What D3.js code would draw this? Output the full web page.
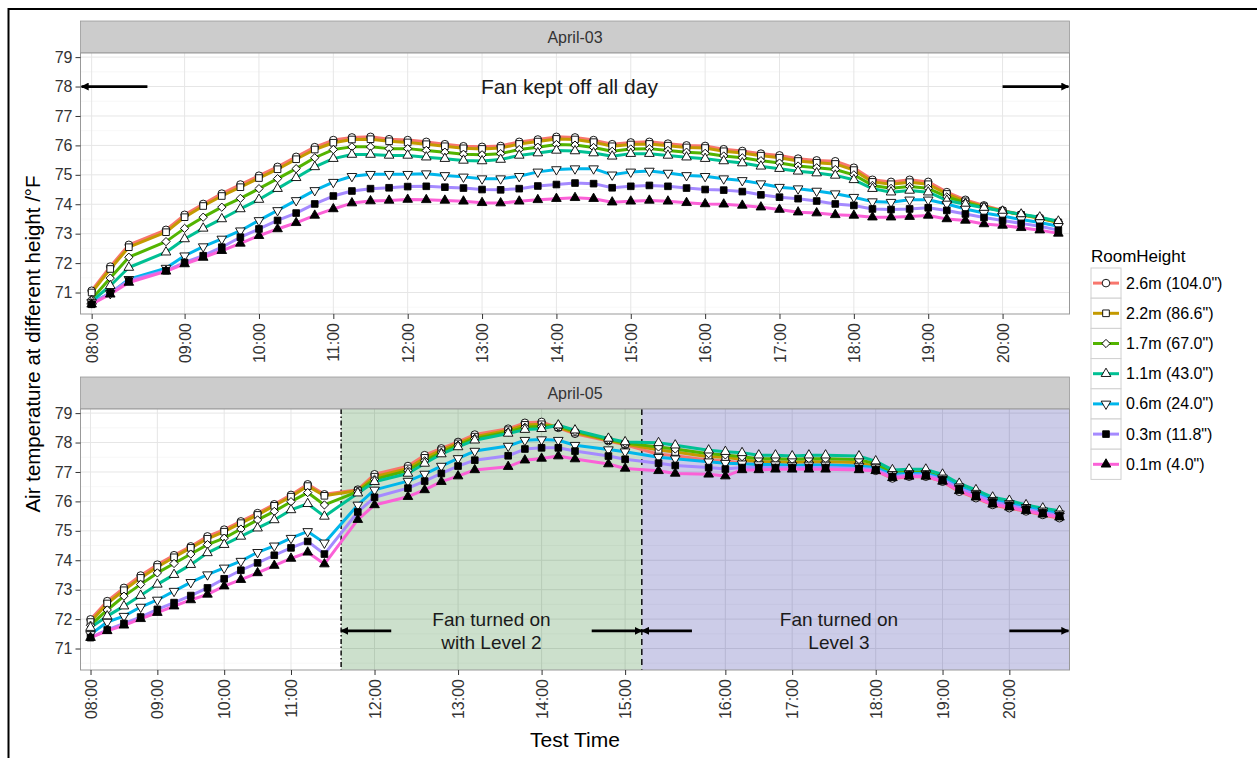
<!DOCTYPE html>
<html>
<head>
<meta charset="utf-8">
<script src="https://cdn.jsdelivr.net/npm/d3@7"></script>
<style>
body{margin:0;background:#fff;}
text{font-family:"Liberation Sans",Arial,sans-serif;}
</style>
</head>
<body>
<svg id="chart" width="1257" height="758"></svg>
<script>

// series (legend order)
var seriesNames=['2.6m (104.0")','2.2m (86.6")','1.7m (67.0")','1.1m (43.0")','0.6m (24.0")','0.3m (11.8")','0.1m (4.0")'];
var seriesColors=["#F8766D","#C49A00","#53B400","#00C094","#00B6EB","#A58AFF","#FB61D7"];
var seriesShapes=["circle","square","diamond","triangle","triangleDown","squareFilled","triangleFilled"];

// April-03 : discrete time slots (53 levels) and the readings
var topLevels=53;
var topSlots=[0,1,2,4,5,6,7,8,9,10,11,12,13,14,15,16,17,18,19,20,21,22,23,24,25,26,27,28,29,30,31,32,33,34,35,36,37,38,39,40,41,42,43,44,45,46,47,48,49,50,51,52];
var top26=[71.06,71.88,72.62,73.13,73.64,74.01,74.36,74.67,74.97,75.27,75.61,75.94,76.18,76.27,76.29,76.21,76.18,76.12,76.04,75.97,75.95,75.98,76.12,76.2,76.29,76.27,76.18,76.04,76.1,76.12,76.06,76.0,75.98,75.87,75.81,75.72,75.66,75.55,75.49,75.46,75.24,74.83,74.76,74.83,74.76,74.41,74.15,73.96,73.79,73.65,73.53,73.39];
var top22=[71.0,71.8,72.54,73.05,73.56,73.94,74.28,74.58,74.89,75.19,75.53,75.86,76.09,76.2,76.21,76.14,76.1,76.04,75.97,75.9,75.88,75.91,76.05,76.13,76.22,76.2,76.11,75.97,76.03,76.05,75.99,75.93,75.91,75.8,75.74,75.65,75.58,75.47,75.41,75.37,75.16,74.76,74.68,74.75,74.68,74.35,74.1,73.92,73.77,73.64,73.52,73.38];
var top17=[70.77,71.49,72.2,72.73,73.18,73.56,73.9,74.2,74.53,74.87,75.21,75.58,75.86,75.95,75.95,75.89,75.89,75.83,75.77,75.7,75.68,75.72,75.86,75.94,76.03,76.01,75.93,75.8,75.88,75.89,75.83,75.77,75.73,75.64,75.58,75.48,75.4,75.3,75.24,75.18,75.0,74.64,74.54,74.6,74.54,74.25,74.05,73.9,73.77,73.65,73.54,73.4];
var top11=[70.7,71.23,71.85,72.37,72.82,73.18,73.5,73.84,74.16,74.53,74.9,75.27,75.55,75.69,75.69,75.66,75.66,75.6,75.55,75.49,75.47,75.52,75.66,75.74,75.83,75.81,75.74,75.63,75.72,75.72,75.66,75.6,75.55,75.47,75.4,75.29,75.21,75.12,75.06,74.98,74.83,74.53,74.41,74.47,74.41,74.13,74.0,73.88,73.76,73.66,73.56,73.42];
var top06=[70.66,70.97,71.45,71.83,72.25,72.56,72.82,73.1,73.45,73.79,74.13,74.47,74.75,74.95,75.02,75.02,75.02,75.04,74.98,74.93,74.87,74.87,74.95,75.1,75.18,75.21,75.21,75.0,75.1,75.13,75.06,74.98,74.95,74.87,74.81,74.7,74.58,74.53,74.45,74.36,74.24,74.09,74.07,74.15,74.15,74.01,73.84,73.7,73.6,73.48,73.38,73.25];
var top03=[70.6,71.0,71.4,71.74,72.02,72.25,72.54,72.88,73.16,73.45,73.7,74.01,74.28,74.45,74.53,74.56,74.6,74.61,74.58,74.55,74.5,74.49,74.53,74.62,74.67,74.72,74.7,74.56,74.61,74.64,74.61,74.55,74.5,74.48,74.43,74.32,74.24,74.19,74.11,74.01,73.96,73.84,73.82,73.84,73.88,73.79,73.67,73.55,73.45,73.35,73.25,73.12];
var top01=[70.6,70.94,71.34,71.72,71.97,72.19,72.42,72.67,72.93,73.16,73.37,73.62,73.84,74.04,74.11,74.13,74.16,74.15,74.13,74.1,74.05,74.04,74.1,74.15,74.19,74.22,74.19,74.07,74.1,74.13,74.1,74.05,74.01,74.0,73.96,73.9,73.82,73.73,73.7,73.64,73.62,73.56,73.56,73.58,73.62,73.5,73.45,73.33,73.28,73.2,73.12,73.01];
var topTickSlots=[0,5,9,13,17,21,25,29,33,37,41,45,49];
var topTickLabels=["08:00","09:00","10:00","11:00","12:00","13:00","14:00","15:00","16:00","17:00","18:00","19:00","20:00"];

// April-05 : discrete time slots (59 levels) and the readings
var botLevels=59;
var botSlots=[0,1,2,3,4,5,6,7,8,9,10,11,12,13,14,16,17,19,20,21,22,23,25,26,27,28,29,31,32,34,35,37,38,39,40,41,42,43,44,46,47,48,49,50,51,52,53,54,55,56,57,58];
var bot26=[71.99,72.61,73.06,73.48,73.85,74.17,74.47,74.81,75.04,75.32,75.6,75.9,76.22,76.58,76.24,76.4,76.92,77.2,77.57,77.8,78.02,78.27,78.47,78.67,78.7,78.5,78.3,78.05,77.92,77.6,77.55,77.4,77.38,77.3,77.25,77.25,77.22,77.24,77.24,77.2,77.04,76.78,76.84,76.84,76.67,76.33,76.11,75.88,75.77,75.66,75.54,75.43];
var bot22=[71.9,72.53,72.98,73.4,73.77,74.1,74.42,74.73,74.97,75.26,75.54,75.85,76.16,76.52,76.19,76.37,76.84,77.12,77.48,77.74,77.97,78.2,78.42,78.6,78.62,78.52,78.34,78.08,77.95,77.75,77.68,77.52,77.5,77.42,77.35,77.35,77.33,77.35,77.35,77.32,77.18,76.88,76.92,76.92,76.74,76.42,76.2,75.96,75.85,75.72,75.6,75.5];
var bot17=[71.79,72.31,72.78,73.18,73.57,73.89,74.21,74.53,74.75,75.06,75.37,75.66,75.99,76.3,75.88,76.33,76.75,77.05,77.38,77.67,77.91,78.14,78.36,78.52,78.55,78.56,78.38,78.1,77.98,77.85,77.78,77.62,77.58,77.52,77.45,77.45,77.43,77.45,77.45,77.42,77.28,76.98,77.0,77.0,76.82,76.52,76.3,76.05,75.94,75.8,75.68,75.58];
var bot11=[71.71,72.1,72.44,72.8,73.18,73.51,73.85,74.25,74.53,74.81,75.09,75.37,75.71,75.92,75.49,76.28,76.67,76.95,77.29,77.61,77.85,78.08,78.31,78.44,78.47,78.59,78.42,78.14,78.02,77.99,77.91,77.74,77.69,77.65,77.57,77.57,77.54,77.57,77.57,77.54,77.37,77.07,77.09,77.09,76.92,76.61,76.39,76.14,76.03,75.88,75.77,75.68];
var bot06=[71.48,71.9,72.1,72.41,72.65,72.95,73.25,73.51,73.74,73.97,74.27,74.49,74.75,74.98,74.59,75.88,76.39,76.69,76.93,77.2,77.46,77.71,77.88,78.08,78.1,78.08,77.91,77.76,77.69,77.5,77.45,77.35,77.3,77.28,77.25,77.25,77.22,77.24,77.24,77.2,77.15,76.92,76.95,76.95,76.8,76.5,76.28,76.04,75.93,75.8,75.68,75.58];
var bot03=[71.37,71.63,71.85,72.07,72.33,72.56,72.8,73.06,73.37,73.66,73.91,74.17,74.42,74.64,74.21,75.64,76.14,76.45,76.69,76.95,77.2,77.4,77.55,77.78,77.82,77.82,77.71,77.54,77.43,77.3,77.22,77.15,77.1,77.15,77.15,77.15,77.15,77.15,77.15,77.12,77.08,76.85,76.9,76.9,76.74,76.44,76.22,75.98,75.87,75.74,75.62,75.52];
var bot01=[71.37,71.6,71.79,72.01,72.22,72.44,72.65,72.84,73.12,73.34,73.57,73.82,74.06,74.27,73.87,75.38,75.88,76.16,76.39,76.67,76.86,77.07,77.18,77.4,77.46,77.54,77.44,77.27,77.12,77.04,76.95,76.92,76.86,77.07,77.07,77.09,77.09,77.09,77.09,77.07,77.04,76.8,76.85,76.85,76.68,76.36,76.14,75.9,75.8,75.68,75.56,75.46];
var botTickSlots=[0,4,8,12,17,22,27,32,38,42,47,51,55];
var botTickLabels=["08:00","09:00","10:00","11:00","12:00","13:00","14:00","15:00","16:00","17:00","18:00","19:00","20:00"];

// fan periods on April-05 (slot where fan changes)
var fanLevel2Slot=15, fanLevel3Slot=33;

var yTicks=[71,72,73,74,75,76,77,78,79];
var yMinor=[70.5,71.5,72.5,73.5,74.5,75.5,76.5,77.5,78.5];


var svg=d3.select("#chart");
var W=+svg.attr("width"), H=+svg.attr("height");

svg.append("rect").attr("width",W).attr("height",H).attr("fill","#fff");
// frame of the original figure
svg.append("line").attr("x1",8.5).attr("x2",W).attr("y1",9).attr("y2",9).attr("stroke","#000").attr("stroke-width",2);
svg.append("line").attr("x1",8.5).attr("x2",8.5).attr("y1",8).attr("y2",H).attr("stroke","#000").attr("stroke-width",2);

var defs=svg.append("defs");
defs.append("marker").attr("id","ahead")
  .attr("viewBox","0 0 10 10").attr("refX",9).attr("refY",5)
  .attr("markerWidth",8).attr("markerHeight",8)
  .attr("markerUnits","userSpaceOnUse")
  .attr("orient","auto")
  .append("path").attr("d","M0,0 L10,5 L0,10 z").attr("fill","#000");

var plotLeft=80.5, plotRight=1069.5;
var y=d3.scaleLinear().domain([70.27,79.14]);

function shapePath(s){
  var sym=d3.symbol();
  if(s=="circle") return sym.type(d3.symbolCircle).size(46)();
  if(s=="square"||s=="squareFilled") return sym.type(d3.symbolSquare).size(44)();
  if(s=="diamond") return sym.type(d3.symbolSquare).size(34)();
  return sym.type(d3.symbolTriangle).size(40)();
}
function shapeRot(s){
  if(s=="diamond") return 45;
  if(s=="triangleDown") return 180;
  return 0;
}
function shapeFill(s){
  return (s=="squareFilled"||s=="triangleFilled") ? "#000" : "#fff";
}

function drawPanel(cfg){
  var g=svg.append("g");
  var x=d3.scaleLinear().domain([-0.6,cfg.levels-1+0.6]).range([plotLeft,plotRight]);
  var yy=y.copy().range([cfg.top+cfg.height,cfg.top]);

  // strip
  g.append("rect").attr("x",plotLeft).attr("y",cfg.top-32).attr("width",plotRight-plotLeft).attr("height",32)
    .attr("fill","#cccccc").attr("stroke","#999").attr("stroke-width",0.8);
  g.append("text").attr("x",(plotLeft+plotRight)/2).attr("y",cfg.top-16).attr("dy","0.35em")
    .attr("text-anchor","middle").style("font-size","16px").attr("fill","#333").text(cfg.title);

  // panel + grid
  g.append("rect").attr("x",plotLeft).attr("y",cfg.top).attr("width",plotRight-plotLeft).attr("height",cfg.height).attr("fill","#fff");
  g.selectAll(".minor").data(yMinor).enter().append("line")
    .attr("x1",plotLeft).attr("x2",plotRight).attr("y1",function(d){return yy(d);}).attr("y2",function(d){return yy(d);})
    .attr("stroke","#f2f2f2").attr("stroke-width",0.6);
  g.selectAll(".majorY").data(yTicks).enter().append("line")
    .attr("x1",plotLeft).attr("x2",plotRight).attr("y1",function(d){return yy(d);}).attr("y2",function(d){return yy(d);})
    .attr("stroke","#e6e6e6").attr("stroke-width",1);
  g.selectAll(".majorX").data(cfg.tickSlots).enter().append("line")
    .attr("y1",cfg.top).attr("y2",cfg.top+cfg.height).attr("x1",function(d){return x(d);}).attr("x2",function(d){return x(d);})
    .attr("stroke","#e6e6e6").attr("stroke-width",1);

  // shaded fan periods
  (cfg.bands||[]).forEach(function(b){
    var x1=x(b.from), x2=(b.to==null)?plotRight:x(b.to);
    g.append("rect").attr("x",x1).attr("y",cfg.top).attr("width",x2-x1).attr("height",cfg.height)
      .attr("fill",b.color).attr("fill-opacity",0.2);
  });
  (cfg.vlines||[]).forEach(function(v){
    g.append("line").attr("x1",x(v.slot)).attr("x2",x(v.slot)).attr("y1",cfg.top).attr("y2",cfg.top+cfg.height)
      .attr("stroke","#000").attr("stroke-width",1.4).attr("stroke-dasharray",v.dash);
  });

  // lines
  var line=d3.line().x(function(d){return x(d.slot);}).y(function(d){return yy(d.v);});
  var series=cfg.values.map(function(vals,i){
    return vals.map(function(v,j){return {slot:cfg.slots[j],v:v,i:i};});
  });
  g.selectAll(".sline").data(series).enter().append("path")
    .attr("d",line).attr("fill","none")
    .attr("stroke",function(d,i){return seriesColors[i];})
    .attr("stroke-width",3).attr("stroke-linejoin","round");

  // points
  series.forEach(function(s,i){
    g.selectAll(".pt"+i).data(s).enter().append("path")
      .attr("d",shapePath(seriesShapes[i]))
      .attr("transform",function(d){return "translate("+x(d.slot)+","+yy(d.v)+") rotate("+shapeRot(seriesShapes[i])+")";})
      .attr("fill",shapeFill(seriesShapes[i])).attr("stroke","#000").attr("stroke-width",0.9);
  });

  // annotations
  (cfg.arrows||[]).forEach(function(a){
    var xe=(a.to==null)?(a.dir<0?plotLeft+1:plotRight-1):x(a.to);
    g.append("line").attr("x1",x(a.from)).attr("x2",xe).attr("y1",yy(a.v)).attr("y2",yy(a.v))
      .attr("stroke","#000").attr("stroke-width",2.8).attr("marker-end","url(#ahead)");
  });
  (cfg.notes||[]).forEach(function(n){
    var t=g.append("text").attr("x",x(n.slot)).attr("y",yy(n.v)).attr("text-anchor","middle")
      .style("font-size",n.size+"px").attr("fill","#1a1a1a");
    var k=n.lines.length;
    n.lines.forEach(function(l,li){
      t.append("tspan").attr("x",x(n.slot)).attr("dy",li==0?((0.35-(k-1)*0.6)+"em"):"1.2em").text(l);
    });
  });

  // panel border
  g.append("rect").attr("x",plotLeft).attr("y",cfg.top).attr("width",plotRight-plotLeft).attr("height",cfg.height)
    .attr("fill","none").attr("stroke","#999").attr("stroke-width",1);

  // axes
  var ya=g.append("g").attr("transform","translate("+plotLeft+",0)")
    .call(d3.axisLeft(yy).tickValues(yTicks).tickSize(5).tickPadding(3).tickFormat(d3.format("d")));
  ya.select(".domain").remove();
  ya.selectAll("line").attr("stroke","#333");
  ya.selectAll("text").style("font-size","16px").attr("fill","#333");

  var xa=g.append("g").attr("transform","translate(0,"+(cfg.top+cfg.height)+")")
    .call(d3.axisBottom(x).tickValues(cfg.tickSlots).tickSize(5)
      .tickFormat(function(d,i){return cfg.tickLabels[i];}));
  xa.select(".domain").remove();
  xa.selectAll("line").attr("stroke","#333");
  xa.selectAll("text").style("font-size","16px").attr("fill","#333")
    .attr("transform","rotate(-90)").attr("text-anchor","end")
    .attr("x",-9).attr("y",0).attr("dy","0.35em");
}

drawPanel({
  title:"April-03", top:53, height:261, levels:topLevels,
  slots:topSlots, values:[top26,top22,top17,top11,top06,top03,top01],
  tickSlots:topTickSlots, tickLabels:topTickLabels,
  arrows:[{from:3,to:null,dir:-1,v:78},{from:49,to:null,dir:1,v:78}],
  notes:[{slot:25.7,v:78,size:21,lines:["Fan kept off all day"]}]
});

drawPanel({
  title:"April-05", top:409, height:261, levels:botLevels,
  slots:botSlots, values:[bot26,bot22,bot17,bot11,bot06,bot03,bot01],
  tickSlots:botTickSlots, tickLabels:botTickLabels,
  bands:[{from:fanLevel2Slot,to:fanLevel3Slot,color:"#006400"},{from:fanLevel3Slot,to:null,color:"#00008b"}],
  vlines:[{slot:fanLevel2Slot,dash:"5,2.5,1.5,2.5"},{slot:fanLevel3Slot,dash:"6,4"}],
  arrows:[{from:18,to:fanLevel2Slot,v:71.6},{from:30,to:fanLevel3Slot,v:71.6},
          {from:36,to:fanLevel3Slot,v:71.6},{from:55,to:null,dir:1,v:71.6}],
  notes:[{slot:24,v:71.6,size:19,lines:["Fan turned on","with Level 2"]},{slot:44.8,v:71.6,size:19,lines:["Fan turned on","Level 3"]}]
});

// axis titles
svg.append("text").attr("transform","translate(40,344) rotate(-90)").attr("text-anchor","middle")
  .style("font-size","20.5px").attr("fill","#000").text("Air temperature at different height /\u00B0F");
svg.append("text").attr("x",(plotLeft+plotRight)/2).attr("y",747).attr("text-anchor","middle")
  .style("font-size","21px").attr("fill","#000").text("Test Time");

// legend
var lg=svg.append("g").attr("transform","translate(1091,268)");
lg.append("text").attr("x",0).attr("y",-6).style("font-size","17px").attr("fill","#000").text("RoomHeight");
var keyH=30.2;
var items=lg.selectAll(".key").data(seriesNames).enter().append("g")
  .attr("transform",function(d,i){return "translate(0,"+(i*keyH)+")";});
items.append("rect").attr("width",30).attr("height",keyH).attr("fill","#fff").attr("stroke","#d0d0d0").attr("stroke-width",1);
items.append("line").attr("x1",2).attr("x2",28).attr("y1",keyH/2).attr("y2",keyH/2)
  .attr("stroke",function(d,i){return seriesColors[i];}).attr("stroke-width",3);
items.append("path")
  .attr("d",function(d,i){return shapePath(seriesShapes[i]);})
  .attr("transform",function(d,i){return "translate(15,"+(keyH/2)+") rotate("+shapeRot(seriesShapes[i])+")";})
  .attr("fill",function(d,i){return shapeFill(seriesShapes[i]);}).attr("stroke","#000").attr("stroke-width",0.9);
items.append("text").attr("x",35).attr("y",keyH/2).attr("dy","0.35em").style("font-size","16px").attr("fill","#000")
  .text(function(d){return d;});
</script>
</body>
</html>
